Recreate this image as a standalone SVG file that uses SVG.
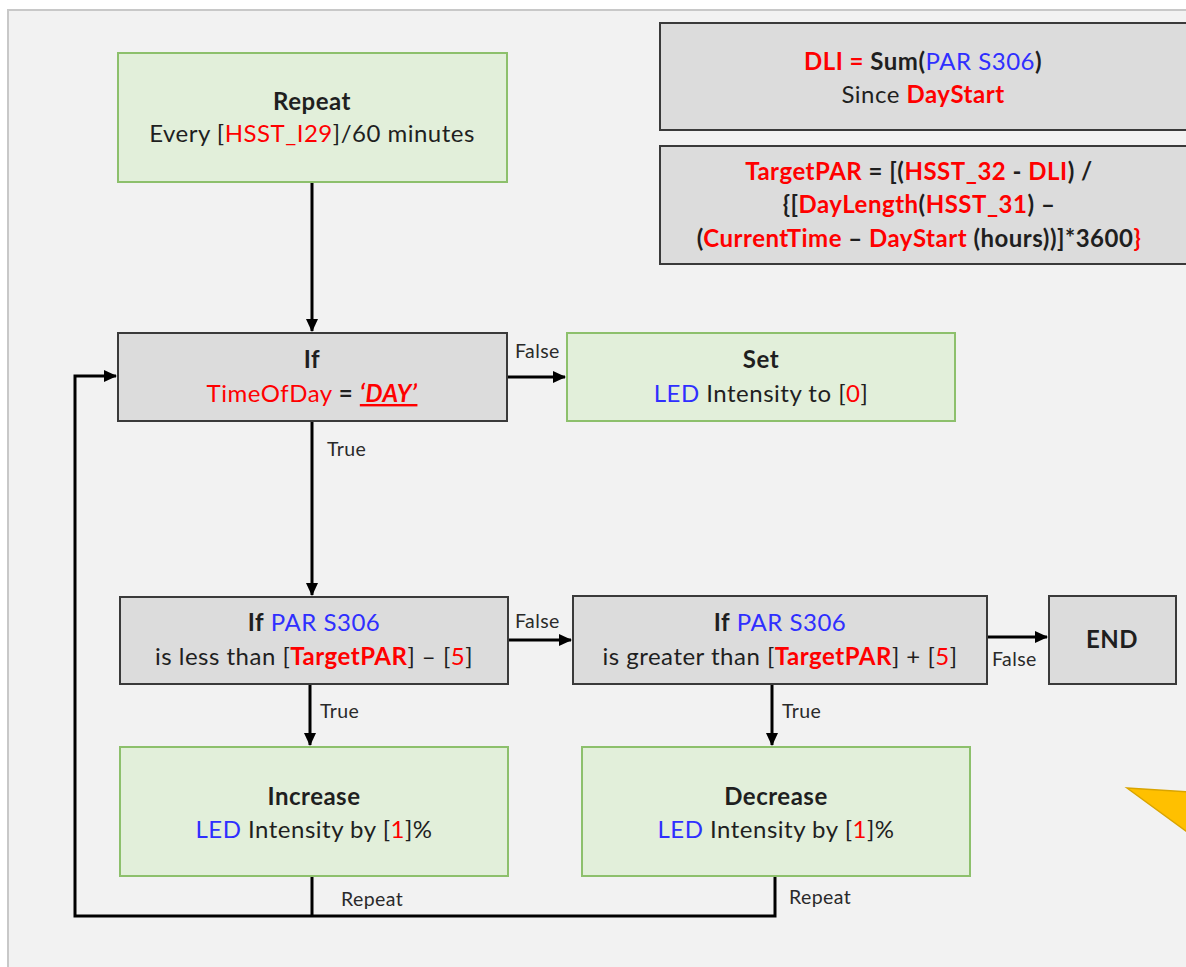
<svg xmlns="http://www.w3.org/2000/svg" width="1186" height="967" viewBox="0 0 1186 967">
  <style>
    text { font-family: Lato, "Noto Sans", "Liberation Sans", sans-serif; font-size: 24px; letter-spacing: 0.5px; fill: #1f1f1f; text-anchor: middle; }
    .b { font-weight: bold; }
    .r { fill: #ff0000; }
    .u { fill: #2f2fff; }
    .lbl { font-size: 19.5px; letter-spacing: 0.4px; text-anchor: start; fill: #2a2a2a; }
    .green { fill: #e2efda; stroke: #8dc06c; stroke-width: 2; }
    .gray { fill: #dcdcdc; stroke: #3a3a3a; stroke-width: 2; }
    .wire { fill: none; stroke: #000; stroke-width: 3; }
  </style>
  <defs>
    <marker id="arrow" markerUnits="userSpaceOnUse" markerWidth="14" markerHeight="14" refX="12" refY="7" orient="auto">
      <path d="M0,1 L13,7 L0,13 Z" fill="#000"/>
    </marker>
  </defs>

  <!-- page background and panel -->
  <rect x="0" y="0" width="1186" height="967" fill="#ffffff"/>
  <rect x="8" y="10" width="1200" height="980" fill="#f2f2f2" stroke="#c8c8c8" stroke-width="2"/>

  <!-- connectors -->
  <g id="connectors">
    <path class="wire" d="M312,182 V331" marker-end="url(#arrow)"/>
    <path class="wire" d="M507,377 H565" marker-end="url(#arrow)"/>
    <path class="wire" d="M312,421 V595" marker-end="url(#arrow)"/>
    <path class="wire" d="M508,640 H571" marker-end="url(#arrow)"/>
    <path class="wire" d="M987,637 H1047" marker-end="url(#arrow)"/>
    <path class="wire" d="M310,684 V745" marker-end="url(#arrow)"/>
    <path class="wire" d="M772,684 V745" marker-end="url(#arrow)"/>
    <path class="wire" d="M312,876 V916"/>
    <path class="wire" d="M775,876 V916 H75 V376 H116" marker-end="url(#arrow)"/>
    <text class="lbl" x="515" y="358">False</text>
    <text class="lbl" x="327" y="456">True</text>
    <text class="lbl" x="515" y="628">False</text>
    <text class="lbl" x="992" y="666">False</text>
    <text class="lbl" x="320" y="718">True</text>
    <text class="lbl" x="782" y="718">True</text>
    <text class="lbl" x="341" y="906">Repeat</text>
    <text class="lbl" x="789" y="904">Repeat</text>
  </g>

  <g id="repeat">
    <rect class="green" x="118" y="53" width="389" height="129"/>
    <text class="b" x="312" y="110">Repeat</text>
    <text x="312" y="142">Every [<tspan class="r">HSST_I29</tspan>]/60 minutes</text>
  </g>

  <g id="dli">
    <rect class="gray" x="660" y="23" width="540" height="107"/>
    <text class="b" x="923" y="70"><tspan class="r">DLI =</tspan> Sum(<tspan class="u" font-weight="normal">PAR S306</tspan>)</text>
    <text x="923" y="103">Since <tspan class="r b">DayStart</tspan></text>
  </g>

  <g id="target-par">
    <rect class="gray" x="660" y="146" width="540" height="118"/>
    <text class="b" x="919" y="180"><tspan class="r">TargetPAR</tspan> = [(<tspan class="r">HSST_32</tspan> - <tspan class="r">DLI</tspan>) /</text>
    <text class="b" x="919" y="213">{[<tspan class="r">DayLength</tspan>(<tspan class="r">HSST_31</tspan>) –</text>
    <text class="b" x="919" y="247">(<tspan class="r">CurrentTime</tspan> – <tspan class="r">DayStart</tspan> (hours))]*3600<tspan class="r">}</tspan></text>
  </g>

  <g id="if-day">
    <rect class="gray" x="118" y="333" width="389" height="88"/>
    <text class="b" x="312" y="368">If</text>
    <text x="312" y="402"><tspan class="r">TimeOfDay</tspan> <tspan class="b">=</tspan> <tspan class="r b" font-style="italic" text-decoration="underline">‘DAY’</tspan></text>
  </g>

  <g id="set-zero">
    <rect class="green" x="567" y="333" width="388" height="88"/>
    <text class="b" x="761" y="368">Set</text>
    <text x="761" y="402"><tspan class="u">LED</tspan> Intensity to [<tspan class="r">0</tspan>]</text>
  </g>

  <g id="if-less">
    <rect class="gray" x="120" y="597" width="388" height="87"/>
    <text x="314" y="631"><tspan class="b">If</tspan> <tspan class="u">PAR S306</tspan></text>
    <text x="314" y="665">is less than [<tspan class="r b">TargetPAR</tspan>] – [<tspan class="r">5</tspan>]</text>
  </g>

  <g id="if-greater">
    <rect class="gray" x="573" y="596" width="414" height="88"/>
    <text x="780" y="631"><tspan class="b">If</tspan> <tspan class="u">PAR S306</tspan></text>
    <text x="780" y="665">is greater than [<tspan class="r b">TargetPAR</tspan>] + [<tspan class="r">5</tspan>]</text>
  </g>

  <g id="end">
    <rect class="gray" x="1049" y="596" width="127" height="88"/>
    <text class="b" x="1112" y="648">END</text>
  </g>

  <g id="increase">
    <rect class="green" x="120" y="747" width="388" height="129"/>
    <text class="b" x="314" y="805">Increase</text>
    <text x="314" y="838"><tspan class="u">LED</tspan> Intensity by [<tspan class="r">1</tspan>]%</text>
  </g>

  <g id="decrease">
    <rect class="green" x="582" y="747" width="388" height="129"/>
    <text class="b" x="776" y="805">Decrease</text>
    <text x="776" y="838"><tspan class="u">LED</tspan> Intensity by [<tspan class="r">1</tspan>]%</text>
  </g>

  <!-- yellow callout pointer at the right edge -->
  <polygon points="1127,788 1190,792 1190,834" fill="#ffc000" stroke="#d9a400" stroke-width="1.5"/>
</svg>
